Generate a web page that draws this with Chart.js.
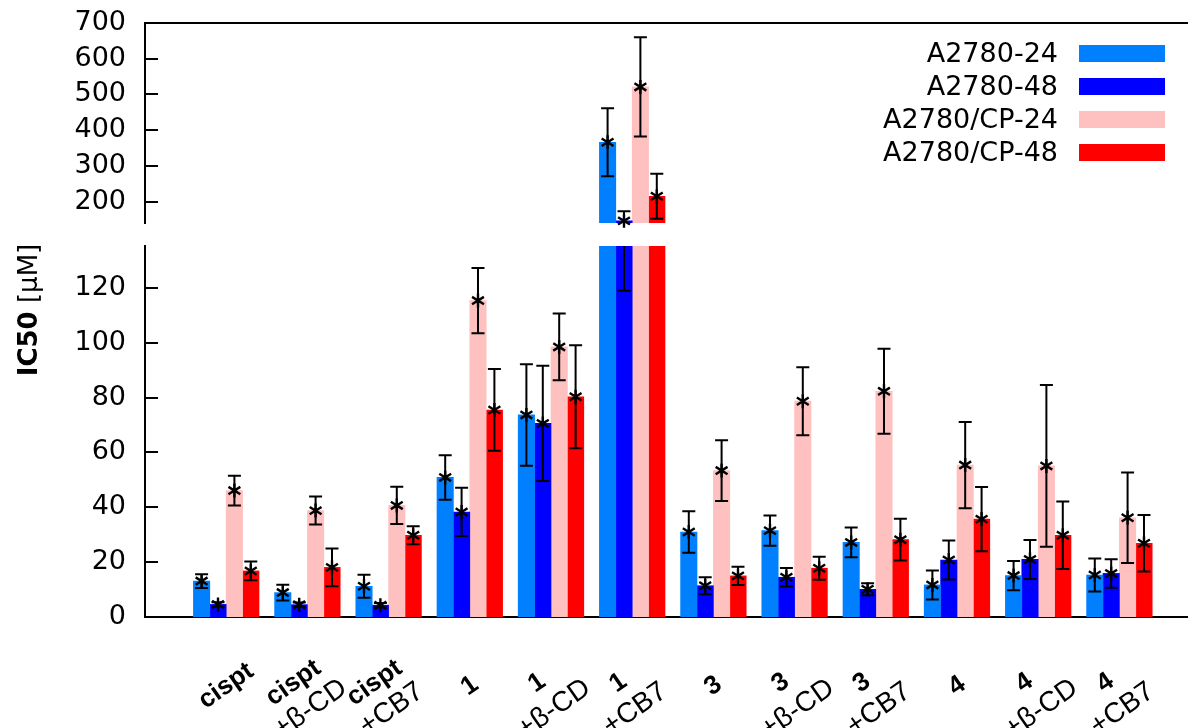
<!DOCTYPE html>
<html>
<head>
<meta charset="utf-8">
<script src="https://cdn.jsdelivr.net/npm/chart.js@4.4.1/dist/chart.umd.min.js"></script>
<style>
    html, body { margin: 0; padding: 0; background: #fff; }
    #wrap { position: relative; width: 1188px; height: 728px; }
    #wrap canvas { position: absolute; left: 0; top: 0; }
</style>
</head>
<body>
<div id="wrap">
    <canvas id="topChart" width="1188" height="728"></canvas>
    <canvas id="bottomChart" width="1188" height="728"></canvas>
</div>
<script>
// categories: compound (bold line) + additive (second line)
const compounds = ['cispt', 'cispt', 'cispt', '1', '1', '1', '3', '3', '3', '4', '4', '4'];
const additives = ['', '+β-CD', '+CB7', '', '+β-CD', '+CB7', '', '+β-CD', '+CB7', '', '+β-CD', '+CB7'];

const seriesNames = ['A2780-24', 'A2780-48', 'A2780/CP-24', 'A2780/CP-48'];
const seriesColors = ['#0080ff', '#0000ff', '#ffc0c0', '#ff0000'];

// IC50 values [µM] and their errors
const a2780_24    = [13.1, 8.9, 11.2, 50.9, 73.7, 366, 31.0, 31.5, 27.2, 11.7, 15.1, 15.3];
const a2780_24Err = [2.5, 2.9, 4.2, 8.1, 18.5, 95, 7.6, 5.5, 5.4, 5.3, 5.3, 6.0];
const a2780_48    = [4.6, 4.5, 4.3, 38.3, 70.6, 146, 11.4, 14.5, 10.1, 20.8, 21.0, 15.9];
const a2780_48Err = [0.8, 0.8, 0.8, 8.8, 21.0, 27, 3.1, 3.4, 2.2, 7.1, 7.1, 5.2];
const cp24        = [46.1, 38.8, 40.7, 115.4, 98.5, 521, 53.4, 78.7, 82.3, 55.4, 55.1, 36.2];
const cp24Err     = [5.4, 5.1, 6.8, 11.9, 12.2, 139, 11.1, 12.4, 15.5, 15.7, 29.5, 16.5];
const cp48        = [16.8, 18.1, 29.8, 75.5, 80.3, 215, 15.0, 17.8, 28.2, 35.7, 29.8, 26.9];
const cp48Err     = [3.4, 6.9, 3.3, 14.9, 18.8, 63, 3.3, 4.2, 7.6, 11.7, 12.3, 10.3];

const allValues = [a2780_24, a2780_48, cp24, cp48];
const allErrors = [a2780_24Err, a2780_48Err, cp24Err, cp48Err];

// broken y axis: upper and lower panel
const topTicks = [200, 300, 400, 500, 600, 700];
const bottomTicks = [0, 20, 40, 60, 80, 100, 120];

const TICK_FONT = { family: '"DejaVu Sans"', size: 27 };

function makeDatasets() {
    return allValues.map((vals, k) => ({
        label: seriesNames[k],
        data: vals.map((v, i) => ({ x: i, y: v })),
        errors: allErrors[k],
        backgroundColor: seriesColors[k],
        borderWidth: 0,
        barThickness: 16.4,
    }));
}

// error bars + asterisk markers, clipped to the panel
const errorBars = {
    id: 'errorBars',
    afterDatasetsDraw(chart) {
        const { ctx, chartArea } = chart;
        const ys = chart.scales.y;
        ctx.save();
        ctx.beginPath();
        ctx.rect(chartArea.left, chartArea.top, chartArea.right - chartArea.left, chartArea.bottom - chartArea.top);
        ctx.clip();
        ctx.strokeStyle = '#000';
        ctx.lineWidth = 2;
        chart.data.datasets.forEach((ds, k) => {
            const meta = chart.getDatasetMeta(k);
            meta.data.forEach((bar, j) => {
                const v = ds.data[j].y;
                const e = ds.errors[j];
                const x = bar.x;
                const yHi = ys.getPixelForValue(v + e);
                const yLo = ys.getPixelForValue(v - e);
                ctx.beginPath();
                ctx.moveTo(x, yLo); ctx.lineTo(x, yHi);
                ctx.moveTo(x - 6.5, yHi); ctx.lineTo(x + 6.5, yHi);
                ctx.moveTo(x - 6.5, yLo); ctx.lineTo(x + 6.5, yLo);
                ctx.stroke();
            });
        });
        ctx.restore();

        ctx.save();
        ctx.strokeStyle = '#000';
        ctx.lineWidth = 2.4;
        chart.data.datasets.forEach((ds, k) => {
            const meta = chart.getDatasetMeta(k);
            meta.data.forEach((bar, j) => {
                const v = ds.data[j].y;
                if (v < ys.min || v > ys.max) return;
                const x = bar.x, y = ys.getPixelForValue(v), r = 7;
                ctx.beginPath();
                [90, 32, 148].forEach(a => {
                    const rad = a * Math.PI / 180;
                    ctx.moveTo(x - r * Math.cos(rad), y + r * Math.sin(rad));
                    ctx.lineTo(x + r * Math.cos(rad), y - r * Math.sin(rad));
                });
                ctx.stroke();
            });
        });
        ctx.restore();
    }
};

// inward tick marks on the y axis
const inwardTicks = {
    id: 'inwardTicks',
    afterDraw(chart) {
        const { ctx, chartArea } = chart;
        const ys = chart.scales.y;
        ctx.save();
        ctx.strokeStyle = '#000';
        ctx.lineWidth = 2;
        ys.ticks.forEach(t => {
            const py = Math.round(ys.getPixelForValue(t.value));
            ctx.beginPath();
            ctx.moveTo(chartArea.left, py);
            ctx.lineTo(chartArea.left + 13, py);
            ctx.stroke();
        });
        ctx.restore();
    }
};

const boxLegend = {
    id: 'boxLegend',
    afterDraw(chart) {
        const { ctx, chartArea } = chart;
        const boxW = 86, boxH = 17, step = 33;
        const boxLeft = chartArea.right - 23 - boxW;
        ctx.save();
        ctx.font = '27px "DejaVu Sans"';
        ctx.textAlign = 'right';
        ctx.textBaseline = 'middle';
        chart.data.datasets.forEach((ds, k) => {
            const top = chartArea.top + 22 + k * step;
            ctx.fillStyle = ds.backgroundColor;
            ctx.fillRect(boxLeft, top, boxW, boxH);
            ctx.fillStyle = '#000';
            ctx.fillText(ds.label, boxLeft - 21, top + boxH / 2 + 1);
        });
        ctx.restore();
    }
};

const categoryLabels = {
    id: 'categoryLabels',
    afterDraw(chart) {
        const ctx = chart.ctx;
        const xs = chart.scales.x;
        const ang = -35 * Math.PI / 180;
        const put = (text, font, cx, cy) => {
            ctx.save();
            ctx.translate(cx, cy);
            ctx.rotate(ang);
            ctx.font = font;
            ctx.textAlign = 'center';
            ctx.textBaseline = 'middle';
            ctx.fillStyle = '#000';
            ctx.fillText(text, 0, 0);
            ctx.restore();
        };
        const boldFont = 'bold 26px "Liberation Sans"';
        const plainFont = '28px "Liberation Sans"';
        compounds.forEach((name, i) => {
            const gx = xs.getPixelForValue(i);
            if (additives[i]) {
                put(name, boldFont, gx - 14, 683);
                put(additives[i], plainFont, gx + 3, 709);
            } else {
                put(name, boldFont, gx, 686);
            }
        });
    }
};

const yTitle = {
    id: 'yTitle',
    afterDraw(chart) {
        const ctx = chart.ctx;
        ctx.save();
        ctx.translate(37, 310);
        ctx.rotate(-Math.PI / 2);
        ctx.fillStyle = '#000';
        ctx.textBaseline = 'alphabetic';
        ctx.textAlign = 'left';
        ctx.font = 'bold 26px "DejaVu Sans"';
        const w1 = ctx.measureText('IC50').width;
        ctx.font = '26px "DejaVu Sans"';
        const w2 = ctx.measureText(' [μM]').width;
        const x0 = -(w1 + w2) / 2;
        ctx.font = 'bold 26px "DejaVu Sans"';
        ctx.fillText('IC50', x0, 0);
        ctx.font = '26px "DejaVu Sans"';
        ctx.fillText(' [μM]', x0 + w1, 0);
        ctx.restore();
    }
};

function baseOptions(yMin, yMax, tickValues, xPos, padding) {
    return {
        responsive: false,
        animation: false,
        events: [],
        layout: { padding: padding, autoPadding: false },
        plugins: { legend: { display: false }, tooltip: { enabled: false } },
        scales: {
            x: {
                type: 'linear',
                position: xPos,
                offset: false,
                min: -1,
                max: 11.845,
                ticks: { display: false },
                grid: { display: false, drawTicks: false, offset: false },
                border: { display: true, color: '#000', width: 2 },
                afterFit: s => { s.height = 0; },
            },
            y: {
                type: 'linear',
                min: yMin,
                max: yMax,
                stacked: false,
                ticks: { font: TICK_FONT, color: '#000', padding: 19 },
                grid: { display: false, drawTicks: false },
                border: { display: true, color: '#000', width: 2 },
                afterBuildTicks: s => { s.ticks = tickValues.map(v => ({ value: v })); },
                // fixed axis width; tick labels may overflow the panel edges
                afterFit: s => { s.width = 145; s.paddingTop = 0; s.paddingBottom = 0; },
            }
        }
    };
}

new Chart(document.getElementById('topChart'), {
    type: 'bar',
    data: { datasets: makeDatasets() },
    options: baseOptions(140, 700, topTicks, 'top', { top: 23, bottom: 505, left: 0, right: 0 }),
    plugins: [errorBars, inwardTicks, boxLegend],
});

new Chart(document.getElementById('bottomChart'), {
    type: 'bar',
    data: { datasets: makeDatasets() },
    options: baseOptions(0, 135.3, bottomTicks, 'bottom', { top: 246, bottom: 111, left: 0, right: 0 }),
    plugins: [errorBars, inwardTicks, categoryLabels, yTitle],
});
</script>
</body>
</html>
